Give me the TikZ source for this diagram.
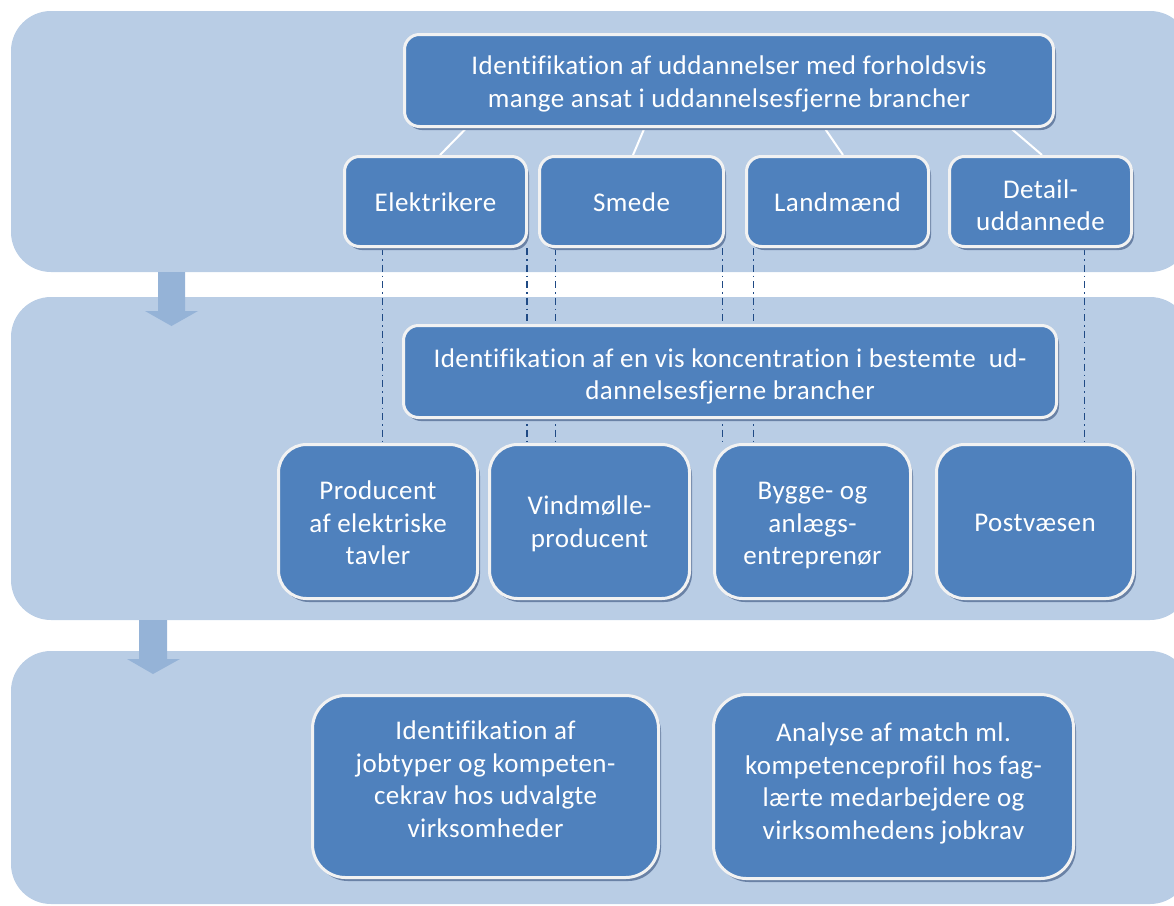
\documentclass[tikz,border=0pt]{standalone}
\usepackage{fontspec}
\setmainfont{Carlito}[Ligatures=NoCommon, LetterSpace=1.7]
\usetikzlibrary{calc,shadows,backgrounds}
\definecolor{panelblue}{HTML}{B9CDE5}
\definecolor{boxblue}{HTML}{4F81BD}
\definecolor{arrowblue}{HTML}{95B3D7}
\definecolor{rimwhite}{HTML}{F2F2F2}
\definecolor{shadowblue}{HTML}{6A82A6}
\definecolor{linkblue}{HTML}{1F4A85}
% centred block of lines, raised by #1 relative to the node centre
\newcommand{\boxlines}[2][0pt]{%
  \raisebox{\dimexpr-9.25pt+#1\relax}[0pt][0pt]{%
    \begin{tabular}{@{}c@{}}#2\end{tabular}}}

\begin{document}
\begin{tikzpicture}[x=1pt,y=-1pt,
  panel/.style={fill=panelblue, rounded corners=40pt},
  downarrow/.style={fill=arrowblue},
  stage/.style={fill=boxblue, draw=rimwhite, line width=3pt, text=white,
    inner sep=0pt, rounded corners=#1,
    font=\fontsize{27}{32.5}\selectfont,
    drop shadow={shadow xshift=2.5pt, shadow yshift=-3.5pt,
      fill=shadowblue, opacity=1}},
  stage/.default=15pt,
  tree/.style={draw=white, line width=2pt},
  link/.style={draw=linkblue, line width=1.8pt,
    dash pattern=on 7pt off 4pt on 1.5pt off 4pt}]

\useasboundingbox (0,0) rectangle (1174,905);
\clip (0,0) rectangle (1174,905);

% boxes of the three stages
\path
  (729,80.5)   node[stage, minimum width=649pt, minimum height=92pt] (top)
     {\boxlines[-1pt]{Identifikation af uddannelser med forholdsvis\\mange ansat i uddannelsesfjerne brancher}\hspace{14pt}}
  (435.5,201.5) node[stage, minimum width=182pt, minimum height=90pt] (elek) {\boxlines{Elektrikere}}
  (631.5,201.5) node[stage, minimum width=184pt, minimum height=90pt] (smede) {\boxlines{Smede}}
  (837.5,201.5) node[stage, minimum width=182pt, minimum height=90pt] (land) {\boxlines{Landmænd}}
  (1040.5,201.5) node[stage, minimum width=182pt, minimum height=90pt] (detail) {\boxlines[-3.5pt]{Detail-\\uddannede}}
  (730,371.5)  node[stage, minimum width=653pt, minimum height=92pt] (mid)
     {\boxlines[-2.5pt]{Identifikation af en vis koncentration i bestemte~ ud-\\dannelsesfjerne brancher}}
  (378,521.5)  node[stage=28pt, minimum width=199pt, minimum height=154pt] (prod) {\boxlines[-1pt]{Producent\\af elektriske\\tavler}}
  (589.5,521.5) node[stage=28pt, minimum width=200pt, minimum height=154pt] (vind) {\boxlines{Vindmølle-\\producent}}
  (812.5,521.5) node[stage=28pt, minimum width=196pt, minimum height=154pt] (bygge) {\boxlines[-1pt]{Bygge- og\\anlægs-\\entreprenør}}
  (1035,521.5) node[stage=28pt, minimum width=197pt, minimum height=154pt] (post) {\boxlines{Postvæsen}}
  (485.5,786.5) node[stage=33pt, minimum width=346pt, minimum height=182pt] (jobs)
     {\boxlines[7.5pt]{Identifikation af\\jobtyper og kompeten-\\cekrav hos udvalgte\\virksomheder}}
  (893.5,786.5) node[stage=33pt, minimum width=360pt, minimum height=184pt] (match)
     {\boxlines[5.75pt]{Analyse af match ml.\\kompetenceprofil hos fag-\\lærte medarbejdere og\\virksomhedens jobkrav}};

\begin{scope}[on background layer]
  % three stage panels
  \path[panel] (11,11) rectangle (1190,272);
  \path[panel] (11,297) rectangle (1190,620);
  \path[panel] (11,651) rectangle (1190,904);

  % block arrows between the panels
  \path[downarrow] (158,272) -- (185,272) -- (185,311) -- (198,311)
    -- (171.5,326) -- (145,311) -- (158,311) -- cycle;
  \path[downarrow] (139,620) -- (167,620) -- (167,659) -- (180,659)
    -- (153,674) -- (127,659) -- (139,659) -- cycle;

  % tree lines from the first box to the trades
  \draw[tree] ($(top.south west)+(63.5,0)$) -- ($(elek.north)+(4.5,0)$);
  \draw[tree] ($(top.south west)+(241.5,0)$) -- ($(smede.north)+(1.5,0)$);
  \draw[tree] ($(top.south west)+(421.5,0)$) -- ($(land.north)+(5.5,0)$);
  \draw[tree] ($(top.south west)+(607.5,0)$) -- ($(detail.north)+(1.5,0)$);

  % dash-dot links from the trades to the companies
  \coordinate (l1) at ($(elek.south west)+(39.5,0)$);
  \coordinate (l2) at ($(elek.south east)+(-1,0)$);
  \coordinate (l3) at ($(smede.south west)+(17.5,0)$);
  \coordinate (l4) at ($(smede.south east)+(-2.5,0)$);
  \coordinate (l5) at ($(land.south west)+(8.5,0)$);
  \coordinate (l6) at ($(detail.south west)+(136.5,0)$);
  \draw[link] (l1) -- (l1 |- prod.north);
  \draw[link] (l2) -- (l2 |- vind.north);
  \draw[link] (l3) -- (l3 |- vind.north);
  \draw[link] (l4) -- (l4 |- bygge.north);
  \draw[link] (l5) -- (l5 |- bygge.north);
  \draw[link] (l6) -- (l6 |- post.north);
\end{scope}
\end{tikzpicture}
\end{document}
